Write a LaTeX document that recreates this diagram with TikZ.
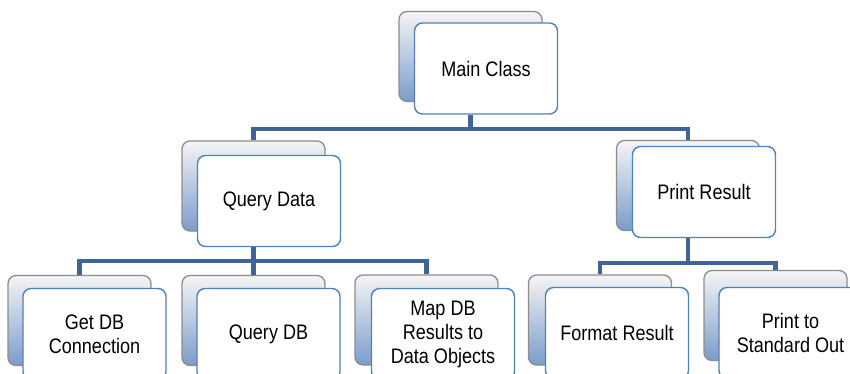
\documentclass[tikz,border=0pt]{standalone}
\usepackage{fontspec}
\setmainfont{Liberation Sans}[FakeStretch=0.86]
\usepackage{tikz}
\definecolor{barblue}{HTML}{3F6597}
\definecolor{edgeblue}{HTML}{4F81BD}
\definecolor{shadeblue}{HTML}{7B9CCB}

\begin{document}
\begin{tikzpicture}[x=1pt,y=-1pt,
    back/.style={draw=black!45, line width=1.3pt, rounded corners=8pt,
      minimum width=143pt, minimum height=90pt, inner sep=0pt,
      top color=black!4, bottom color=shadeblue},
    front/.style={draw=edgeblue, line width=1.4pt, fill=white, rounded corners=8pt,
      minimum width=143pt, minimum height=91pt, inner sep=2pt,
      align=center, font=\fontsize{21}{24}\selectfont},
    bar/.style={draw=barblue, line width=4.2pt}
  ]
  \clip (0,0) rectangle (850,373);
  % Root
  \node[back] (mainB) at (470.5,56.5) {};
  \node[front] (main) at (486,68.5) {Main Class};
  %
  \node[back] (qdataB) at (253.5,186) {};
  \node[front] (qdata) at (269,201) {Query Data};
  \node[back] (presB) at (688,185.5) {};
  \node[front] (pres) at (704,192) {Print Result};
  %
  \node[back] (dbconB) at (79.5,320.5) {};
  \node[front] (dbcon) at (94.5,334) {Get DB\\Connection};
  \node[back] (qdbB) at (253.5,320.5) {};
  \node[front] (qdb) at (268.5,334) {Query DB};
  \node[back] (mapB) at (426.5,320) {};
  \node[front] (map) at (443,334) {Map DB\\Results to\\Data Objects};
  %
  \node[back] (fmtB) at (600,320) {};
  \node[front] (fmt) at (617,333) {Format Result};
  \node[back] (stdoutB) at (775.5,315.5) {};
  \node[front] (stdout) at (790.5,333) {Print to\\Standard Out};
  %
  \draw[bar] (mainB |- main.south) -- ++(0,14) -| (qdataB.north);
  \draw[bar] (mainB |- main.south) -- ++(0,14) -| (presB.north);
  %
  \draw[bar] (qdataB |- qdata.south) -- ++(0,14) -| (dbconB.north);
  \draw[bar] (qdataB |- qdata.south) -- (qdbB.north);
  \draw[bar] (qdataB |- qdata.south) -- ++(0,14) -| (mapB.north);
  %
  \draw[bar] (presB |- pres.south) -- ++(0,25) -| (fmtB.north);
  \draw[bar] (presB |- pres.south) -- ++(0,25) -| (stdoutB.north);
\end{tikzpicture}
\end{document}
